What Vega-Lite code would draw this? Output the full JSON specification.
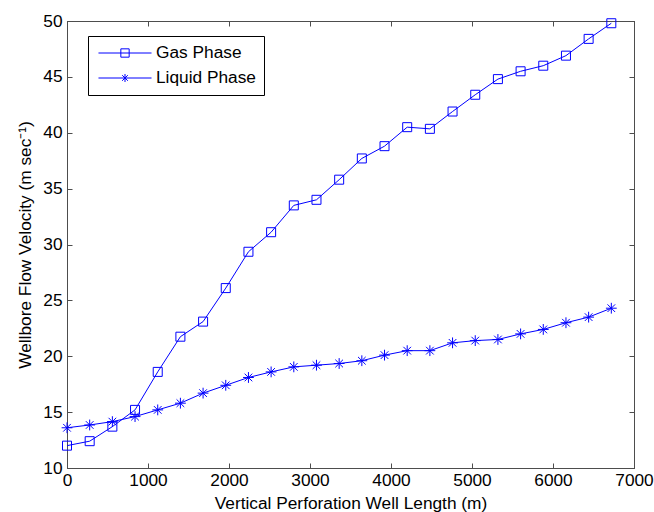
{
  "$schema": "https://vega.github.io/schema/vega-lite/v6.json",
  "width": 567,
  "height": 447,
  "autosize": {"type": "none"},
  "padding": {"left": 67, "top": 21, "right": 20, "bottom": 44},
  "background": "white",
  "config": {
    "font": "Liberation Sans",
    "view": {"stroke": "#4d4d4d", "strokeWidth": 1},
    "axis": {
      "grid": false,
      "domainColor": "#4d4d4d",
      "tickColor": "#4d4d4d",
      "labelColor": "black",
      "titleColor": "black",
      "labelFont": "Liberation Sans",
      "titleFont": "Liberation Sans",
      "labelFontSize": 17.3,
      "titleFontSize": 17.3,
      "titleFontWeight": "normal",
      "labelFlush": false,
      "tickSize": -5
    }
  },
  "data": {
    "values": [
      {"len": 0, "v": 12.0, "phase": "Gas Phase"},
      {"len": 280, "v": 12.4, "phase": "Gas Phase"},
      {"len": 560, "v": 13.7, "phase": "Gas Phase"},
      {"len": 840, "v": 15.2, "phase": "Gas Phase"},
      {"len": 1120, "v": 18.6, "phase": "Gas Phase"},
      {"len": 1400, "v": 21.75, "phase": "Gas Phase"},
      {"len": 1680, "v": 23.1, "phase": "Gas Phase"},
      {"len": 1960, "v": 26.1, "phase": "Gas Phase"},
      {"len": 2240, "v": 29.35, "phase": "Gas Phase"},
      {"len": 2520, "v": 31.1, "phase": "Gas Phase"},
      {"len": 2800, "v": 33.5, "phase": "Gas Phase"},
      {"len": 3080, "v": 34.0, "phase": "Gas Phase"},
      {"len": 3360, "v": 35.8, "phase": "Gas Phase"},
      {"len": 3640, "v": 37.7, "phase": "Gas Phase"},
      {"len": 3920, "v": 38.8, "phase": "Gas Phase"},
      {"len": 4200, "v": 40.5, "phase": "Gas Phase"},
      {"len": 4480, "v": 40.35, "phase": "Gas Phase"},
      {"len": 4760, "v": 41.9, "phase": "Gas Phase"},
      {"len": 5040, "v": 43.4, "phase": "Gas Phase"},
      {"len": 5320, "v": 44.8, "phase": "Gas Phase"},
      {"len": 5600, "v": 45.5, "phase": "Gas Phase"},
      {"len": 5880, "v": 46.0, "phase": "Gas Phase"},
      {"len": 6160, "v": 46.9, "phase": "Gas Phase"},
      {"len": 6440, "v": 48.4, "phase": "Gas Phase"},
      {"len": 6720, "v": 49.8, "phase": "Gas Phase"},
      {"len": 0, "v": 13.6, "phase": "Liquid Phase"},
      {"len": 280, "v": 13.85, "phase": "Liquid Phase"},
      {"len": 560, "v": 14.15, "phase": "Liquid Phase"},
      {"len": 840, "v": 14.6, "phase": "Liquid Phase"},
      {"len": 1120, "v": 15.2, "phase": "Liquid Phase"},
      {"len": 1400, "v": 15.8, "phase": "Liquid Phase"},
      {"len": 1680, "v": 16.7, "phase": "Liquid Phase"},
      {"len": 1960, "v": 17.4, "phase": "Liquid Phase"},
      {"len": 2240, "v": 18.1, "phase": "Liquid Phase"},
      {"len": 2520, "v": 18.6, "phase": "Liquid Phase"},
      {"len": 2800, "v": 19.05, "phase": "Liquid Phase"},
      {"len": 3080, "v": 19.2, "phase": "Liquid Phase"},
      {"len": 3360, "v": 19.35, "phase": "Liquid Phase"},
      {"len": 3640, "v": 19.6, "phase": "Liquid Phase"},
      {"len": 3920, "v": 20.1, "phase": "Liquid Phase"},
      {"len": 4200, "v": 20.5, "phase": "Liquid Phase"},
      {"len": 4480, "v": 20.5, "phase": "Liquid Phase"},
      {"len": 4760, "v": 21.2, "phase": "Liquid Phase"},
      {"len": 5040, "v": 21.4, "phase": "Liquid Phase"},
      {"len": 5320, "v": 21.5, "phase": "Liquid Phase"},
      {"len": 5600, "v": 22.0, "phase": "Liquid Phase"},
      {"len": 5880, "v": 22.4, "phase": "Liquid Phase"},
      {"len": 6160, "v": 23.0, "phase": "Liquid Phase"},
      {"len": 6440, "v": 23.5, "phase": "Liquid Phase"},
      {"len": 6720, "v": 24.3, "phase": "Liquid Phase"}
    ]
  },
  "layer": [
    {
      "mark": {"type": "line", "color": "#0000ff", "strokeWidth": 1},
      "encoding": {
        "x": {
          "field": "len",
          "type": "quantitative",
          "scale": {"domain": [0, 7000], "nice": false},
          "axis": {"orient": "top", "labels": false, "title": null, "values": [0, 1000, 2000, 3000, 4000, 5000, 6000, 7000]}
        },
        "y": {
          "field": "v",
          "type": "quantitative",
          "scale": {"domain": [10, 50], "nice": false},
          "axis": {"orient": "right", "labels": false, "title": null, "values": [10, 15, 20, 25, 30, 35, 40, 45, 50]}
        },
        "detail": {"field": "phase"}
      }
    },
    {
      "mark": {"type": "point", "filled": false, "color": "#0000ff", "strokeWidth": 1, "size": 81, "opacity": 1},
      "encoding": {
        "x": {
          "field": "len",
          "type": "quantitative",
          "axis": {"orient": "bottom", "title": "Vertical Perforation Well Length (m)", "format": "d", "values": [0, 1000, 2000, 3000, 4000, 5000, 6000, 7000], "labelPadding": 8, "titlePadding": 6}
        },
        "y": {
          "field": "v",
          "type": "quantitative",
          "axis": {"orient": "left", "title": "Wellbore Flow Velocity (m sec⁻¹)", "format": "d", "values": [10, 15, 20, 25, 30, 35, 40, 45, 50], "labelPadding": 10, "titlePadding": 8}
        },
        "shape": {
          "field": "phase",
          "type": "nominal",
          "scale": {
            "domain": ["Gas Phase", "Liquid Phase"],
            "range": ["square", "M-1.2,0H1.2M0,-1.2V1.2M-0.85,-0.85L0.85,0.85M-0.85,0.85L0.85,-0.85"]
          },
          "legend": null
        }
      }
    },
    {
      "transform": [{"filter": "datum.len < 0"}],
      "mark": {"type": "point", "filled": false, "color": "#0000ff", "strokeWidth": 1, "size": 289, "opacity": 1},
      "encoding": {
        "x": {"field": "len", "type": "quantitative", "axis": null},
        "y": {"field": "v", "type": "quantitative", "axis": null},
        "shape": {
          "field": "phase",
          "type": "nominal",
          "scale": {
            "domain": ["Gas Phase", "Liquid Phase"],
            "range": [
              "M-3.12,0H3.12M-0.49,-0.49H0.49V0.49H-0.49Z",
              "M-3.12,0H3.12M0,-0.47V0.47M-0.33,-0.33L0.33,0.33M-0.33,0.33L0.33,-0.33"
            ]
          },
          "legend": {
            "orient": "none",
            "legendX": 21,
            "legendY": 15,
            "title": null,
            "strokeColor": "black",
            "fillColor": "white",
            "padding": 8,
            "cornerRadius": 0,
            "labelFont": "Liberation Sans",
            "labelFontSize": 17.3,
            "labelColor": "black",
            "symbolOffset": 20,
            "labelOffset": 22,
            "rowPadding": 7,
            "symbolSize": 289,
            "symbolStrokeColor": "#0000ff",
            "symbolFillColor": "transparent",
            "symbolStrokeWidth": 1,
            "symbolOpacity": 1
          }
        }
      }
    }
  ],
  "resolve": {
    "axis": {"x": "independent", "y": "independent"},
    "scale": {"shape": "independent"}
  }
}
